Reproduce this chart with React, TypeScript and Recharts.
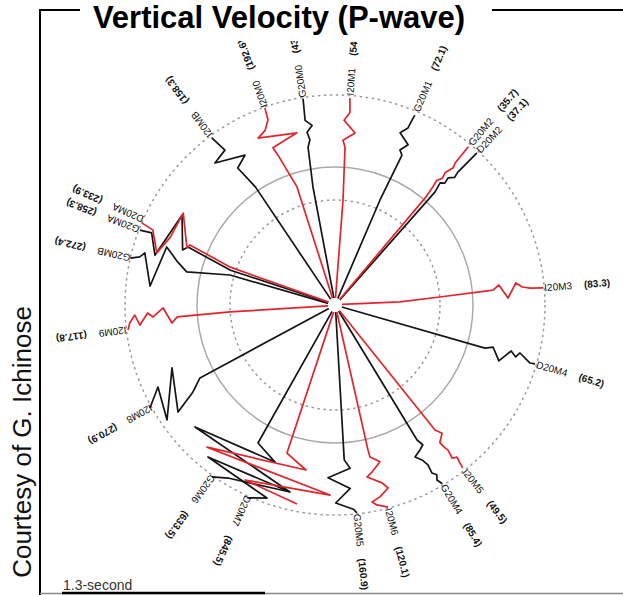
import React from 'react';
import { ComposedChart, Line, Scatter, XAxis, YAxis, ReferenceDot } from 'recharts';

// ---------- data ----------
const stationNames = ['I20MB', 'I20M0', 'G20M0', 'I20M1', 'G20M1', 'G20M2', 'D20M2', 'I20M3', 'D20M4', 'I20M5', 'G20M4', 'I20M6', 'G20M5', '', 'D20M7', 'G20M6', 'I20M8', 'I20M9', 'G20MB', 'G20MA', 'D20MA'];
const stationValues = ['(158.3)', '(192.6)', '(43.4)', '(54.0)', '(72.1)', '(35.7)', '(37.1)', '(83.3)', '(65.2)', '(49.5)', '(85.4)', '(120.1)', '(160.9)', '', '(845.5)', '(633.5)', '(270.9)', '(117.8)', '(272.4)', '(258.3)', '(233.9)'];
const stationAzimuths = [323.6, 340.4, 351.2, 4.1, 22.8, 40.1, 43.0, 85.3, 106.4, 141.9, 149.0, 165.3, 174.0, 191.0, 204.4, 215.6, 240.9, 263.1, 282.9, 291.0, 294.0];
const traceGroup = ['obs', 'syn', 'obs', 'syn', 'obs', 'syn', 'obs', 'syn', 'obs', 'syn', 'obs', 'syn', 'obs', 'syn', 'obs', 'obs', 'obs', 'syn', 'obs', 'obs', 'syn'];

// waveforms: [distance along the ray, sideways deflection]
const wI20MB = [[7, 0], [142, 6], [168, 3], [174, 16.5], [185.5, -12.4], [190, 3.3], [208, 0]];
const wI20M0 = [[7, 0], [124, 3.8], [160, -3.4], [169, -5.7], [175, 21.9], [183, -16.5], [188, -7.2], [197, -1], [209, 0]];
const wG20M0 = [[7, 0], [120, -3.7], [160, -2.5], [167, 0.5], [175, -1.2], [181, 4.8], [187, -1.3], [209, 0]];
const wI20M1 = [[7, 0], [105, 0.5], [158, -1.3], [165, -3.8], [173, 7.7], [185, -4.2], [193, 1.2], [207.5, 0]];
const wG20M1 = [[7, 0], [114, 0.8], [164, 3.7], [168, -0.2], [176, 5.3], [184, -6.7], [191.5, -1.3], [200, -0.7], [206, 0]];
const wG20M2 = [[7, 0], [140, 0], [152, -1], [161, -2.5], [166, 0.5], [172, -1], [181, 2], [186, 0.4], [207, 0]];
const wD20M2 = [[7, 0], [140, -3.6], [151, -4], [161, -6.4], [164, -2.8], [170, -4], [175, 0.4], [181, -0.8], [194, -0.3], [208, 0]];
const wI20M3 = [[7, 0], [65, 2.3], [105, 0.6], [153, -1.6], [159, -2], [165, -6.5], [173, 7.2], [182, -7.1], [188, -2.6], [196, -0.9], [209, 0]];
const wD20M4 = [[7, 0], [156, -1], [163.5, -4.3], [173, 7.4], [182, -5.6], [188, -1.2], [191, -6.2], [203.5, 0.6], [208.5, 0]];
const wI20M5 = [[7, 0], [160, -1.6], [167, -5.2], [173, 2.5], [180, 1.6], [184, 0.6], [193, 2.3], [195, -2.2], [201, -0.9], [207, 0]];
const wG20M4 = [[7, 0], [158, -0.8], [165, -3.3], [168, 1.9], [171.5, 9.7], [177.6, 5.2], [185, 2.7], [194, 3.4], [198, 0.2], [202.5, 2.7], [208.5, 0]];
const wI20M6 = [[7, 0], [149, 4.9], [156, 4.7], [163, -3.7], [171, 6.6], [174.5, 12.7], [184, -0.3], [190.5, -4.9], [197, 5.2], [200, 14.2], [204, 10.2], [209, 0]];
const wG20M5 = [[7, 0], [155, 7], [164, 2], [171, 25], [184, 4], [197, 20], [205, 3], [209, 0]];
const wSyn191 = [[7, 0], [154.5, 18.9], [167.5, -3], [164, 98.5], [187.5, -31.4], [189, 54.9], [202.6, -0.7]];
const wD20M7 = [[7, 0], [157.5, 13.1], [167.8, -10.3], [168.9, 77.1], [188.9, -36.2], [190.9, 52.9], [203.9, -17.8], [211.7, 0]];
const wG20M6 = [[178.2, -72.3], [203, -13.7], [211.5, 0]];
const wI20M8 = [[7, 0], [153.5, 1.9], [166.4, -6.9], [189.2, -17.2], [173, 24.3], [202.7, -18.8], [194.6, 14.4], [211.8, 0]];
const wI20M9 = [[7, 0], [105, 5.7], [158, 7.1], [164, 1.7], [171, 17.7], [182, 10], [187, 14.6], [196, 3.5], [200, 14.1], [206, 6.7], [208.5, 0]];
const wG20MB = [[7, 0], [109, 5.8], [152, -0.8], [163, 6.9], [177, 19], [184.5, -22.8], [197, 8.3], [201, 3.3], [210, 0]];
const wG20MA = [[7, 0], [110, -5], [158, 1.4], [162, -3.2], [175, 29], [186, -18], [197, 1.6], [209, 0]];
const wD20MA = [[7, 0], [111, -8], [157, -4.2], [158.5, -8.1], [176, 22.2], [178, -5], [184, -24.9], [197, -5.5], [210, -3.6]];

const waveforms = [wI20MB, wI20M0, wG20M0, wI20M1, wG20M1, wG20M2, wD20M2, wI20M3, wD20M4, wI20M5, wG20M4, wI20M6, wG20M5, wSyn191, wD20M7, wG20M6, wI20M8, wI20M9, wG20MB, wG20MA, wD20MA];

const ringRadii = [105, 138, 210];
const scaleBarLabel = '1.3-second';
const titleText = 'Vertical Velocity (P-wave)';
const creditText = 'Courtesy of G. Ichinose';

// ---------- layout ----------
const W = 623;
const H = 554;
const TOP = 41;
const CX = 335;
const CY = 264;
const xDomain = [-CX, W - CX];
const yDomain = [-(H - CY), CY];
const pxPerUnit = W / (xDomain[1] - xDomain[0]);
const RED = '#e3242b';
const BLACK = '#151515';
const FONT = '"Liberation Sans", Arial, Helvetica, sans-serif';
const LABEL_R = 210;
const LABEL_GAP = 12;

const charW: Record<string, number> = { I: 0.278, D: 0.722, G: 0.778, M: 0.833, A: 0.667, B: 0.667 };
const textWidth = (s: string, size: number) =>
  s.split('').reduce((a, ch) => a + (charW[ch] !== undefined ? charW[ch] : 0.556), 0) * size;

const toXY = (az: number, wave: number[][]) => {
  const t = (az * Math.PI) / 180;
  const s = Math.sin(t);
  const c = Math.cos(t);
  return wave.map(([r, p]) => ({ x: r * s + p * c, y: r * c - p * s }));
};
const polar = (az: number, r: number) => {
  const t = (az * Math.PI) / 180;
  return { x: r * Math.sin(t), y: r * Math.cos(t) };
};

const LabelShape = (props: any) => {
  const { cx, cy, payload } = props;
  if (cx == null || cy == null || !payload) return <g />;
  const rot = payload.az - 90;
  return (
    <text
      x={cx}
      y={cy}
      transform={`rotate(${rot} ${cx} ${cy})`}
      textAnchor="start"
      dominantBaseline="central"
      fontSize={10}
      fontFamily={FONT}
      fontWeight={payload.bold ? 'bold' : 'normal'}
      fill="#111"
    >
      {payload.text}
    </text>
  );
};

export default function App() {
  const traces = stationNames.map((name, i) => ({
    key: `${name || 'syn'}-${i}`,
    color: traceGroup[i] === 'syn' ? RED : BLACK,
    pts: toXY(stationAzimuths[i], waveforms[i]),
  }));
  const ordered = [...traces.filter((t) => t.color === BLACK), ...traces.filter((t) => t.color === RED)];

  const labels: any[] = [];
  stationNames.forEach((n, i) => {
    if (!n) return;
    const az = stationAzimuths[i];
    labels.push({ ...polar(az, LABEL_R), az, text: n, bold: false });
    const r2 = LABEL_R + textWidth(n, 10) + LABEL_GAP;
    labels.push({ ...polar(az, r2), az, text: stationValues[i], bold: true });
  });

  const axes = (
    <>
      <XAxis type="number" dataKey="x" domain={xDomain} hide allowDataOverflow />
      <YAxis type="number" dataKey="y" domain={yDomain} hide allowDataOverflow />
    </>
  );
  const margin = { top: 0, right: 0, bottom: 0, left: 0 };
  const layer: React.CSSProperties = { position: 'absolute', left: 0, top: 0, width: W, height: H };

  return (
    <div style={{ position: 'absolute', left: 0, top: 0, width: 623, height: 595, background: '#fff', overflow: 'hidden' }}>
      <svg width={623} height={595} style={{ position: 'absolute', left: 0, top: 0 }}>
        <text x={279} y={28} textAnchor="middle" fontFamily={FONT} fontWeight="bold" fontSize={31} fill="#000">
          {titleText}
        </text>
        <polyline points="80,10 40,10 40,595" fill="none" stroke="#000" strokeWidth={2} />
        <line x1={492} y1={10} x2={623} y2={10} stroke="#000" strokeWidth={2} />
        <line x1={40} y1={593.5} x2={623} y2={593.5} stroke="#8a8a8a" strokeWidth={1.5} />
        <line x1={62} y1={593} x2={265} y2={593} stroke="#000" strokeWidth={2.5} />
        <text x={63} y={590} fontFamily={FONT} fontSize={14} fill="#333">
          {scaleBarLabel}
        </text>
        <text transform="translate(31,442) rotate(-90)" textAnchor="middle" fontFamily={FONT} fontSize={26} fill="#111">
          {creditText}
        </text>
      </svg>
      <div style={{ position: 'absolute', left: 0, top: TOP, width: W, height: H, overflow: 'hidden' }}>
        <div style={layer}>
          <ComposedChart width={W} height={H} margin={margin}>
            {axes}
            <ReferenceDot x={0} y={0} r={ringRadii[0] * pxPerUnit} fill="none" stroke="#9a9a9a" strokeWidth={1.5} strokeDasharray="2.5 3.5" />
            <ReferenceDot x={0} y={0} r={ringRadii[1] * pxPerUnit} fill="none" stroke="#aaaaaa" strokeWidth={1.5} />
            <ReferenceDot x={0} y={0} r={ringRadii[2] * pxPerUnit} fill="none" stroke="#9a9a9a" strokeWidth={1.5} strokeDasharray="2.5 3.5" />
          </ComposedChart>
        </div>
        <div style={layer}>
          <ComposedChart width={W} height={H} margin={margin}>
            {axes}
            {ordered.map((t) => (
              <Line
                key={t.key}
                data={t.pts}
                dataKey="y"
                type="linear"
                stroke={t.color}
                strokeWidth={1.7}
                strokeLinejoin="round"
                dot={false}
                activeDot={false}
                isAnimationActive={false}
              />
            ))}
          </ComposedChart>
        </div>
        <div style={layer}>
          <ComposedChart width={W} height={H} margin={margin}>
            {axes}
            <ReferenceDot x={0} y={0} r={7} fill="#fff" stroke="none" />
            <Scatter data={labels} dataKey="y" shape={LabelShape} isAnimationActive={false} />
          </ComposedChart>
        </div>
      </div>
    </div>
  );
}
